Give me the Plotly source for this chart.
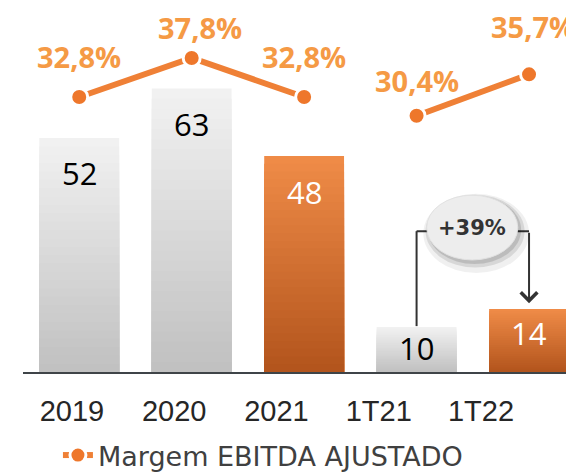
import plotly.graph_objects as go

categorias = ["2019", "2020", "2021", "1T21", "1T22"]
ebitda = [52, 63, 48, 10, 14]
margem = [32.8, 37.8, 32.8, 30.4, 35.7]
margem_txt = ["32,8%", "37,8%", "32,8%", "30,4%", "35,7%"]
destaque = [False, False, True, False, True]
variacao = "+39%"

# label offsets in pixels (layout only)
rotulo_dx = [0, 8, 0, 0, 4]
rotulo_dy = [40, 30, 40, 35, 48]
valor_dy = [-35, -35, -36, -21, -24]

# gradient colours (top, bottom)
cinza = ((242, 242, 242), (192, 192, 192))
laranja = ((240, 140, 72), (178, 84, 28))


def mistura(c, t):
    top, bot = c
    r, g, b = [round(bot[i] + (top[i] - bot[i]) * t) for i in range(3)]
    return f"rgb({r},{g},{b})"


fig = go.Figure()

# bars drawn as stacked overlay bands to fake the vertical gradient
n = 28
for k in range(n):
    frac = 1 - k / n
    t = frac - 0.5 / n
    fig.add_trace(go.Bar(
        x=categorias,
        y=[v * frac for v in ebitda],
        width=0.71,
        marker=dict(color=[mistura(laranja if d else cinza, t) for d in destaque], line_width=0),
        showlegend=False,
        hoverinfo="skip",
    ))

# values near the top of the bars
for i, v in enumerate(ebitda):
    fig.add_annotation(
        x=i, y=v, text=str(v), showarrow=False, yshift=valor_dy[i],
        font=dict(family="Open Sans", size=31, color="white" if destaque[i] else "black"),
    )

linha = dict(color="#EF8036", width=6)
marcador = dict(size=17, color="#EE772B", line=dict(color="white", width=3))
fig.add_trace(go.Scatter(
    x=categorias[:3], y=margem[:3], yaxis="y2", mode="lines+markers",
    line=linha, marker=marcador, name="Margem EBITDA AJUSTADO",
))
fig.add_trace(go.Scatter(
    x=categorias[3:], y=margem[3:], yaxis="y2", mode="lines+markers",
    line=linha, marker=marcador, showlegend=False,
))

for i, txt in enumerate(margem_txt):
    fig.add_annotation(
        x=i, y=margem[i], yref="y2", text=f"<b>{txt}</b>", showarrow=False,
        xshift=rotulo_dx[i], yshift=rotulo_dy[i],
        font=dict(family="Open Sans", size=29, color="#F59A45"),
    )

# bracket 1T21 -> 1T22
cor_seta = "#333333"
fig.add_shape(type="line", x0=3, x1=3, y0=ebitda[3] + 0.2, y1=31.3, line=dict(color=cor_seta, width=2), layer="above")
fig.add_shape(type="line", x0=3, x1=4, y0=31.3, y1=31.3, line=dict(color=cor_seta, width=2), layer="above")
fig.add_annotation(
    x=4, y=ebitda[4] + 1.3, ax=4, ay=31.3, axref="x", ayref="y", xref="x", yref="y",
    text="", showarrow=True, arrowhead=4, arrowsize=1.6, arrowwidth=2, arrowcolor=cor_seta,
)
# ellipse with a soft shadow
fig.add_shape(type="circle", x0=3.06, x1=4.00, y0=22.0, y1=39.6,
              fillcolor="rgba(0,0,0,0.06)", line_width=0, layer="above")
fig.add_shape(type="circle", x0=3.08, x1=3.96, y0=23.2, y1=39.4,
              fillcolor="rgba(0,0,0,0.10)", line_width=0, layer="above")
fig.add_shape(type="circle", x0=3.10, x1=3.93, y0=24.0, y1=39.2,
              fillcolor="rgba(0,0,0,0.12)", line_width=0, layer="above")
fig.add_shape(type="circle", x0=3.09, x1=3.90, y0=24.9, y1=39.3,
              fillcolor="#EDEDED", line=dict(color="#E2E2E2", width=1), layer="above")
fig.add_annotation(
    x=3.495, y=32.1, text=f"<b>{variacao}</b>", showarrow=False,
    font=dict(family="DejaVu Sans", size=21, color="#333333"),
)

# invisible trace carrying the category tick labels (they sit slightly left of the bars)
fig.add_trace(go.Scatter(x=categorias, y=[0] * 5, xaxis="x2", mode="markers",
                         marker=dict(opacity=0), showlegend=False, hoverinfo="skip"))

# the page body adds an 8px offset, so the plot area is placed to compensate
fig.update_layout(
    width=574, height=472,
    margin=dict(l=15, r=0, t=0, b=108),
    barmode="overlay",
    plot_bgcolor="white", paper_bgcolor="white",
    xaxis=dict(
        type="category", range=[-0.5, 4.471], showline=True, linecolor="#3F4448", linewidth=2,
        showgrid=False, ticks="", showticklabels=False, automargin=False,
    ),
    xaxis2=dict(
        type="category", range=[-0.479, 4.988], overlaying="x", side="bottom", anchor="y",
        showline=False, showgrid=False, ticks="", ticklabelstandoff=19, automargin=False,
        tickfont=dict(family="Liberation Sans", size=29, color="#262626"),
    ),
    yaxis=dict(range=[0, 80.9], visible=False, automargin=False),
    yaxis2=dict(range=[-2.46, 44.21], overlaying="y", visible=False, automargin=False),
    legend=dict(
        orientation="h", x=0.087, xref="container", y=0.0, yref="container",
        xanchor="left", yanchor="bottom",
        font=dict(family="DejaVu Sans", size=27, color="#404040"),
    ),
    showlegend=True,
)

fig.write_html("out.html")
